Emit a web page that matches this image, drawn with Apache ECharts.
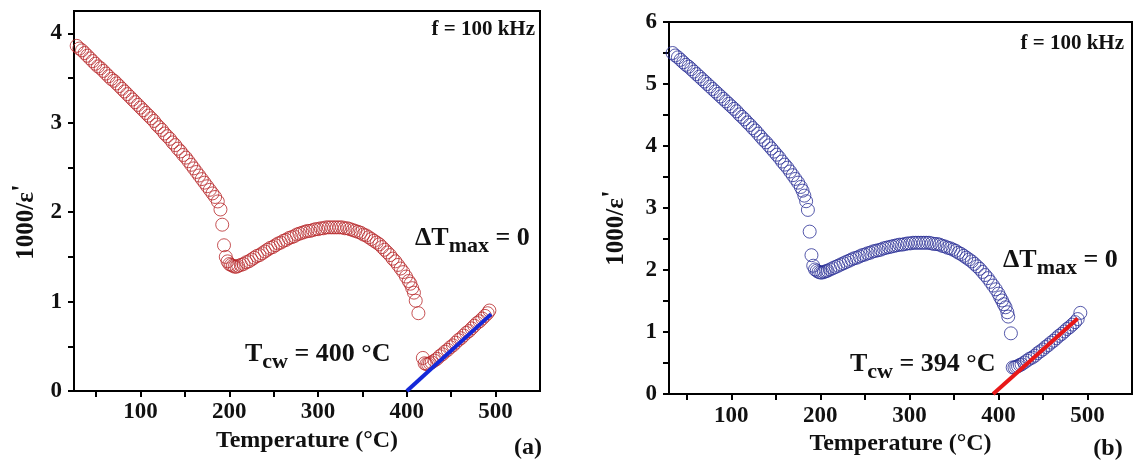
<!DOCTYPE html>
<html>
<head>
<meta charset="utf-8">
<script src="https://cdn.jsdelivr.net/npm/echarts@6/dist/echarts.min.js"></script>
<style>
  html, body { margin: 0; padding: 0; background: #fff; }
  #chart { width: 1137px; height: 461px; }
</style>
</head>
<body>
<div id="chart"></div>
<script>
// panel (a): 1000/eps' vs temperature, red open circles
const tempA = [28, 31, 34, 37, 40, 43, 46, 49, 52, 55, 58, 61, 64, 67, 70, 73, 76, 79, 82, 85,
  88, 91, 94, 97, 100, 103, 106, 109, 112, 115, 118, 121, 124, 127, 130, 133, 136, 139, 142, 145,
  148, 151, 154, 157, 160, 163, 166, 169, 172, 175, 178, 181, 184, 187, 190, 192, 194, 196, 198, 200,
  202, 204, 206, 208, 210, 213, 216, 219, 222, 225, 228, 231, 234, 237, 240, 243, 246, 249, 252, 255,
  258, 261, 264, 267, 270, 273, 276, 279, 282, 285, 288, 291, 294, 297, 300, 303, 306, 309, 312, 315,
  318, 321, 324, 327, 330, 333, 336, 339, 342, 345, 348, 351, 354, 357, 360, 363, 366, 369, 372, 375,
  378, 381, 384, 387, 390, 393, 396, 399, 402, 404, 406, 408, 410, 413,
  418, 420, 422, 424, 426, 428, 431, 434, 437, 440, 443, 446, 449, 452, 455, 458, 461, 464, 467, 470,
  473, 476, 479, 482, 485, 488, 491, 493];
const valA = [3.86, 3.83, 3.81, 3.78, 3.75, 3.72, 3.69, 3.66, 3.63, 3.61, 3.58, 3.55, 3.52, 3.49, 3.47, 3.44, 3.41, 3.38, 3.35, 3.32,
  3.29, 3.26, 3.23, 3.20, 3.17, 3.14, 3.11, 3.08, 3.05, 3.02, 2.98, 2.95, 2.92, 2.88, 2.85, 2.82, 2.78, 2.75, 2.71, 2.68,
  2.64, 2.61, 2.57, 2.53, 2.49, 2.45, 2.41, 2.37, 2.33, 2.29, 2.25, 2.21, 2.17, 2.12, 2.03, 1.86, 1.63, 1.50, 1.45, 1.42,
  1.41, 1.40, 1.39, 1.39, 1.40, 1.41, 1.42, 1.44, 1.45, 1.47, 1.49, 1.51, 1.52, 1.54, 1.56, 1.58, 1.60, 1.61, 1.63, 1.65,
  1.66, 1.68, 1.69, 1.71, 1.72, 1.73, 1.75, 1.76, 1.77, 1.78, 1.79, 1.79, 1.80, 1.81, 1.81, 1.82, 1.82, 1.83, 1.83, 1.83,
  1.83, 1.83, 1.83, 1.83, 1.82, 1.82, 1.81, 1.80, 1.79, 1.78, 1.77, 1.75, 1.74, 1.72, 1.70, 1.68, 1.66, 1.64, 1.61, 1.58,
  1.55, 1.52, 1.48, 1.45, 1.41, 1.37, 1.33, 1.28, 1.23, 1.20, 1.15, 1.10, 1.01, 0.87,
  0.37, 0.31, 0.30, 0.30, 0.31, 0.32, 0.34, 0.36, 0.39, 0.41, 0.44, 0.46, 0.49, 0.51, 0.54, 0.57, 0.59, 0.62, 0.65, 0.67,
  0.70, 0.73, 0.76, 0.78, 0.81, 0.84, 0.87, 0.90];
// Curie-Weiss fit line (a)
const fitTempA = [400, 495];
const fitValA = [0, 0.86];

// panel (b): blue open circles
const tempB = [34, 37, 40, 43, 46, 49, 52, 55, 58, 61, 64, 67, 70, 73, 76, 79, 82, 85, 88, 91,
  94, 97, 100, 103, 106, 109, 112, 115, 118, 121, 124, 127, 130, 133, 136, 139, 142, 145, 148, 151,
  154, 157, 160, 163, 166, 169, 172, 175, 178, 180, 182, 184, 186, 188, 190, 192, 194, 196, 198, 200,
  202, 204, 206, 208, 211, 214, 217, 220, 223, 226, 229, 232, 235, 238, 241, 244, 247, 250, 253, 256,
  259, 262, 265, 268, 271, 274, 277, 280, 283, 286, 289, 292, 295, 298, 301, 304, 307, 310, 313, 316,
  319, 322, 325, 328, 331, 334, 337, 340, 343, 346, 349, 352, 355, 358, 361, 364, 367, 370, 373, 376,
  379, 382, 385, 388, 391, 394, 397, 400, 402, 404, 406, 408, 410, 411, 414,
  416, 418, 420, 422, 424, 426, 429, 432, 435, 438, 441, 444, 447, 450, 453, 456, 459, 462, 465, 468,
  471, 474, 477, 480, 483, 486, 489, 492];
const valB = [5.50, 5.46, 5.43, 5.39, 5.35, 5.31, 5.28, 5.24, 5.20, 5.16, 5.12, 5.08, 5.04, 5.00, 4.96, 4.92, 4.88, 4.84, 4.80, 4.76,
  4.72, 4.68, 4.64, 4.60, 4.56, 4.51, 4.47, 4.43, 4.38, 4.34, 4.29, 4.25, 4.20, 4.15, 4.10, 4.06, 4.01, 3.96, 3.91, 3.86,
  3.81, 3.75, 3.70, 3.65, 3.59, 3.53, 3.47, 3.41, 3.34, 3.28, 3.20, 3.11, 2.97, 2.62, 2.24, 2.07, 2.01, 1.99, 1.97, 1.96,
  1.96, 1.97, 1.98, 1.99, 2.01, 2.03, 2.05, 2.07, 2.09, 2.11, 2.13, 2.15, 2.17, 2.19, 2.20, 2.22, 2.24, 2.25, 2.27, 2.28,
  2.30, 2.31, 2.32, 2.33, 2.35, 2.36, 2.37, 2.38, 2.39, 2.40, 2.41, 2.41, 2.42, 2.43, 2.43, 2.44, 2.44, 2.44, 2.44, 2.44,
  2.44, 2.44, 2.43, 2.42, 2.42, 2.41, 2.39, 2.38, 2.36, 2.35, 2.33, 2.31, 2.28, 2.26, 2.23, 2.20, 2.17, 2.14, 2.10, 2.06,
  2.02, 1.97, 1.92, 1.87, 1.81, 1.75, 1.69, 1.62, 1.56, 1.51, 1.45, 1.40, 1.32, 1.25, 0.98,
  0.43, 0.43, 0.44, 0.45, 0.47, 0.48, 0.51, 0.54, 0.57, 0.59, 0.62, 0.66, 0.69, 0.72, 0.76, 0.79, 0.83, 0.86, 0.90, 0.94,
  0.97, 1.01, 1.05, 1.08, 1.12, 1.16, 1.21, 1.31];
const fitTempB = [394, 489];
const fitValB = [0, 1.22];

// axis ticks / labels
const xTicks = [50, 100, 150, 200, 250, 300, 350, 400, 450, 500];
const xLabels = [100, 200, 300, 400, 500];
const yTicksA = [0, 0.5, 1, 1.5, 2, 2.5, 3, 3.5, 4];
const yLabelsA = [0, 1, 2, 3, 4];
const yTicksB = [0, 0.5, 1, 1.5, 2, 2.5, 3, 3.5, 4, 4.5, 5, 5.5, 6];
const yLabelsB = [0, 1, 2, 3, 4, 5, 6];

const FONT = 'Liberation Serif';
const zip = (xs, ys) => xs.map((x, i) => [x, ys[i]]);

const xAxisOf = (gi, min) => ({
  type: 'value', gridIndex: gi, min: min, max: 550,
  name: 'Temperature (°C)', nameLocation: 'middle', nameGap: 37,
  nameTextStyle: { fontFamily: FONT, fontWeight: 'bold', fontSize: 24, color: '#111' },
  axisLine: { show: true, lineStyle: { color: '#000', width: 2 } },
  axisTick: { show: true, length: 6, customValues: xTicks, lineStyle: { color: '#000', width: 2 } },
  axisLabel: { customValues: xLabels, margin: 10, fontFamily: FONT, fontWeight: 'bold', fontSize: 23, color: '#111' },
  splitLine: { show: false }
});
const yAxisOf = (gi, max, ticks, labels) => ({
  type: 'value', gridIndex: gi, min: 0, max: max,
  axisLine: { show: true, lineStyle: { color: '#000', width: 2 } },
  axisTick: { show: true, length: 6, customValues: ticks, lineStyle: { color: '#000', width: 2 } },
  axisLabel: { customValues: labels, margin: 12, fontFamily: FONT, fontWeight: 'bold', fontSize: 23, color: '#111' },
  splitLine: { show: false }
});

const richSub = {
  sub: { fontFamily: FONT, fontWeight: 'bold', fontSize: 22, padding: [16, 0, 0, 0], fill: '#111' }
};
const txt = (x, y, text, size, align) => ({
  type: 'text', x: x, y: y, z: 10,
  style: {
    text: text, fontFamily: FONT, fontWeight: 'bold', fontSize: size, fill: '#111',
    align: align || 'left', verticalAlign: 'middle', rich: richSub
  }
});
const yTitle = (x, y) => ({
  type: 'text', x: x, y: y, rotation: Math.PI / 2, z: 10,
  style: {
    text: '1000/ε{p|\'}', fontFamily: FONT, fontWeight: 'bold', fontSize: 25, fill: '#111',
    align: 'center', verticalAlign: 'middle',
    rich: { p: { fontFamily: FONT, fontWeight: 'bold', fontSize: 28, padding: [0, 0, 8, 0], fill: '#111' } }
  }
});

const circle = (color) => ({
  type: 'scatter', symbol: 'circle', symbolSize: 13,
  itemStyle: { color: 'rgba(0,0,0,0)', borderColor: color, borderWidth: 1 },
  emphasis: { disabled: true }
});

const myChart = echarts.init(document.getElementById('chart'), null, { renderer: 'canvas' });
const option = {
  backgroundColor: '#fff',
  animation: false,
  grid: [
    { left: 74, top: 11, width: 466, height: 380, show: true, borderColor: '#000', borderWidth: 2, containLabel: false },
    { left: 669, top: 22, width: 463, height: 374, show: true, borderColor: '#000', borderWidth: 2, containLabel: false }
  ],
  xAxis: [xAxisOf(0, 25), xAxisOf(1, 30)],
  yAxis: [yAxisOf(0, 4.25, yTicksA, yLabelsA), yAxisOf(1, 6, yTicksB, yLabelsB)],
  series: [
    Object.assign(circle('#b8282b'), { xAxisIndex: 0, yAxisIndex: 0, data: zip(tempA, valA) }),
    { type: 'line', xAxisIndex: 0, yAxisIndex: 0, data: zip(fitTempA, fitValA), showSymbol: false,
      lineStyle: { color: '#1428d8', width: 4 }, z: 3 },
    Object.assign(circle('#2a2f96'), { xAxisIndex: 1, yAxisIndex: 1, data: zip(tempB, valB) }),
    { type: 'line', xAxisIndex: 1, yAxisIndex: 1, data: zip(fitTempB, fitValB), showSymbol: false,
      lineStyle: { color: '#e81818', width: 4 }, z: 3 }
  ],
  graphic: [
    yTitle(27, 222),
    yTitle(617, 228),
    txt(535, 30, 'f = 100 kHz', 21, 'right'),
    txt(415, 238, 'ΔT{sub|max} = 0', 26),
    txt(245, 354, 'T{sub|cw} = 400 °C', 26),
    txt(528, 448, '(a)', 24, 'center'),
    txt(1124, 44, 'f = 100 kHz', 21, 'right'),
    txt(1003, 260, 'ΔT{sub|max} = 0', 26),
    txt(850, 364, 'T{sub|cw} = 394 °C', 26),
    txt(1108, 449, '(b)', 24, 'center')
  ]
};
myChart.setOption(option);
</script>
</body>
</html>
